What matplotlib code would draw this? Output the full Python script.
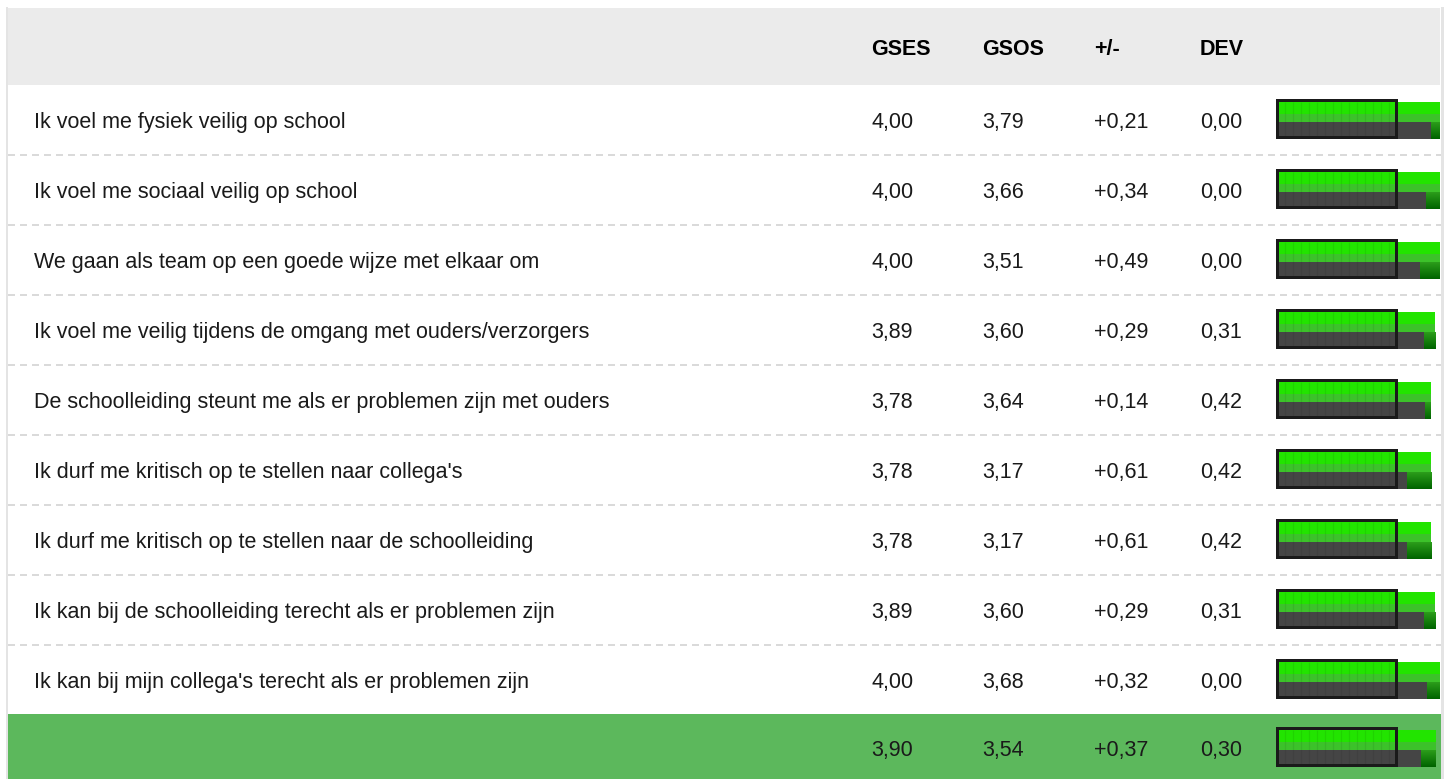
import matplotlib
matplotlib.use('Agg')
import matplotlib.pyplot as plt
from matplotlib.patches import Rectangle
from matplotlib.colors import LinearSegmentedColormap
import numpy as np

# ---------------- data ----------------
items = [
    "Ik voel me fysiek veilig op school",
    "Ik voel me sociaal veilig op school",
    "We gaan als team op een goede wijze met elkaar om",
    "Ik voel me veilig tijdens de omgang met ouders/verzorgers",
    "De schoolleiding steunt me als er problemen zijn met ouders",
    "Ik durf me kritisch op te stellen naar collega's",
    "Ik durf me kritisch op te stellen naar de schoolleiding",
    "Ik kan bij de schoolleiding terecht als er problemen zijn",
    "Ik kan bij mijn collega's terecht als er problemen zijn",
]
gses = [4.00, 4.00, 4.00, 3.89, 3.78, 3.78, 3.78, 3.89, 4.00]
gsos = [3.79, 3.66, 3.51, 3.60, 3.64, 3.17, 3.17, 3.60, 3.68]
diff = [0.21, 0.34, 0.49, 0.29, 0.14, 0.61, 0.61, 0.29, 0.32]
dev = [0.00, 0.00, 0.00, 0.31, 0.42, 0.42, 0.42, 0.31, 0.00]
total_gses = 3.90
total_gsos = 3.54
total_diff = 0.37
total_dev = 0.30
headers = ["GSES", "GSOS", "+/-", "DEV"]

# ---------------- layout ----------------
W, H = 1448, 779
PX = 0.72  # points per pixel at dpi 100
plt.rcParams['lines.scale_dashes'] = False
FONT = ['Liberation Sans', 'DejaVu Sans']
FS = 15.5

fig = plt.figure(figsize=(W / 100, H / 100), dpi=100)
fig.patch.set_facecolor('white')
ax = fig.add_axes([0, 0, 1, 1])
ax.set_xlim(0, W)
ax.set_ylim(H, 0)
ax.axis('off')

LEFT, RIGHT = 8, 1441
ROW_TOP, ROW_H = 85, 70
n = len(items)

# frame strips
ax.add_patch(Rectangle((6, 7), 2, H - 7, color='#e4e4e4', lw=0))
ax.add_patch(Rectangle((1441, 7), 2.5, H - 7, color='#e4e4e4', lw=0))
# header
ax.add_patch(Rectangle((LEFT, 8), 1432, ROW_TOP - 8, color='#ebebeb', lw=0))
# total row background
ax.add_patch(Rectangle((LEFT, ROW_TOP + n * ROW_H - 1), RIGHT - LEFT, H, color='#5cb85c', lw=0))

# separators
for i in range(n - 1):
    y = ROW_TOP + (i + 1) * ROW_H
    ax.plot([LEFT, RIGHT], [y, y], color='#d2d2d2', lw=1.6 * PX,
            dashes=(7 * PX, 5 * PX), solid_capstyle='butt', dash_capstyle='butt')

col_x = [871, 982, 1094, 1200]
TXT = '#1a1a1a'

def fmt(v, sign=False):
    s = f"{v:+.2f}" if sign else f"{v:.2f}"
    return s.replace('.', ',')

# header text
for cx, h in zip(col_x, headers):
    ax.text(cx, 55, h, fontsize=FS, fontweight='bold', family=FONT,
            color='black', va='baseline', ha='left')

row_tops = [ROW_TOP + i * ROW_H for i in range(n)] + [ROW_TOP + n * ROW_H - 2]
labels = items + [""]
g_all = gses + [total_gses]
s_all = gsos + [total_gsos]
d_all = diff + [total_diff]
v_all = dev + [total_dev]

for top, lab, g, s, d, v in zip(row_tops, labels, g_all, s_all, d_all, v_all):
    yb = top + 42.7
    ax.text(34, yb, lab, fontsize=FS, family=FONT, color=TXT, va='baseline')
    for cx, val in zip(col_x, [fmt(g), fmt(s), fmt(d, True), fmt(v)]):
        ax.text(cx, yb, val, fontsize=FS, family=FONT, color=TXT, va='baseline')

# ---------------- bar graphics ----------------
X0, S = 1282, 39.4          # pixel of value 0, pixels per unit
BX0, BX1 = 1255, 1441
bax = fig.add_axes([BX0 / W, 0, (BX1 - BX0) / W, 1])
bax.axis('off')
bax.patch.set_alpha(0)

def v2x(px):
    return (px - X0) / S

origin = v2x(1277.3)
tops = np.array(row_tops, dtype=float)
green_y = tops + 16.7 + 10
low_y = tops + 29.0 + 3.85
gray_y = tops + 36.7 + 8.65

g_arr = np.array(g_all)
s_arr = np.array(s_all)

bax.barh(green_y, g_arr - origin, left=origin, height=20, color='#22e400', lw=0, zorder=2)
bax.barh(low_y, g_arr - origin, left=origin, height=7.7, color='#3cc22a', lw=0, zorder=2.1)
bax.barh(gray_y, s_arr - origin, left=origin, height=17.3, color='#454545', lw=0, zorder=2)
dbars = bax.barh(gray_y, g_arr - s_arr, left=s_arr, height=17.3, color='none', lw=0, zorder=2)
cmap_dg = LinearSegmentedColormap.from_list('dg', ['#2ea01c', '#006400'])
grad = np.linspace(0, 1, 32).reshape(-1, 1)
for p in dbars:
    x0, y0 = p.get_x(), p.get_y()
    w, h = p.get_width(), p.get_height()
    im = bax.imshow(grad, extent=(x0, x0 + w, y0 + h, y0), cmap=cmap_dg,
                    aspect='auto', zorder=2.5, interpolation='bilinear')
    im.set_clip_path(p)

# reference box with subtle stripes
bl, br = v2x(1276.5), v2x(1396.2)
for top in tops:
    bax.add_patch(Rectangle((bl, top + 14.8), br - bl, 37.0, fill=False,
                            edgecolor='#1a1a1a', lw=3 * PX, zorder=4))
    sx = v2x(np.arange(1285, 1394, 8))
    bax.vlines(sx, top + 17, top + 51, color='black', alpha=0.07, lw=1.2 * PX, zorder=3)

bax.set_xlim(v2x(BX0), v2x(BX1))
bax.set_ylim(H, 0)

fig.savefig('out.png', dpi=100, facecolor='white')
